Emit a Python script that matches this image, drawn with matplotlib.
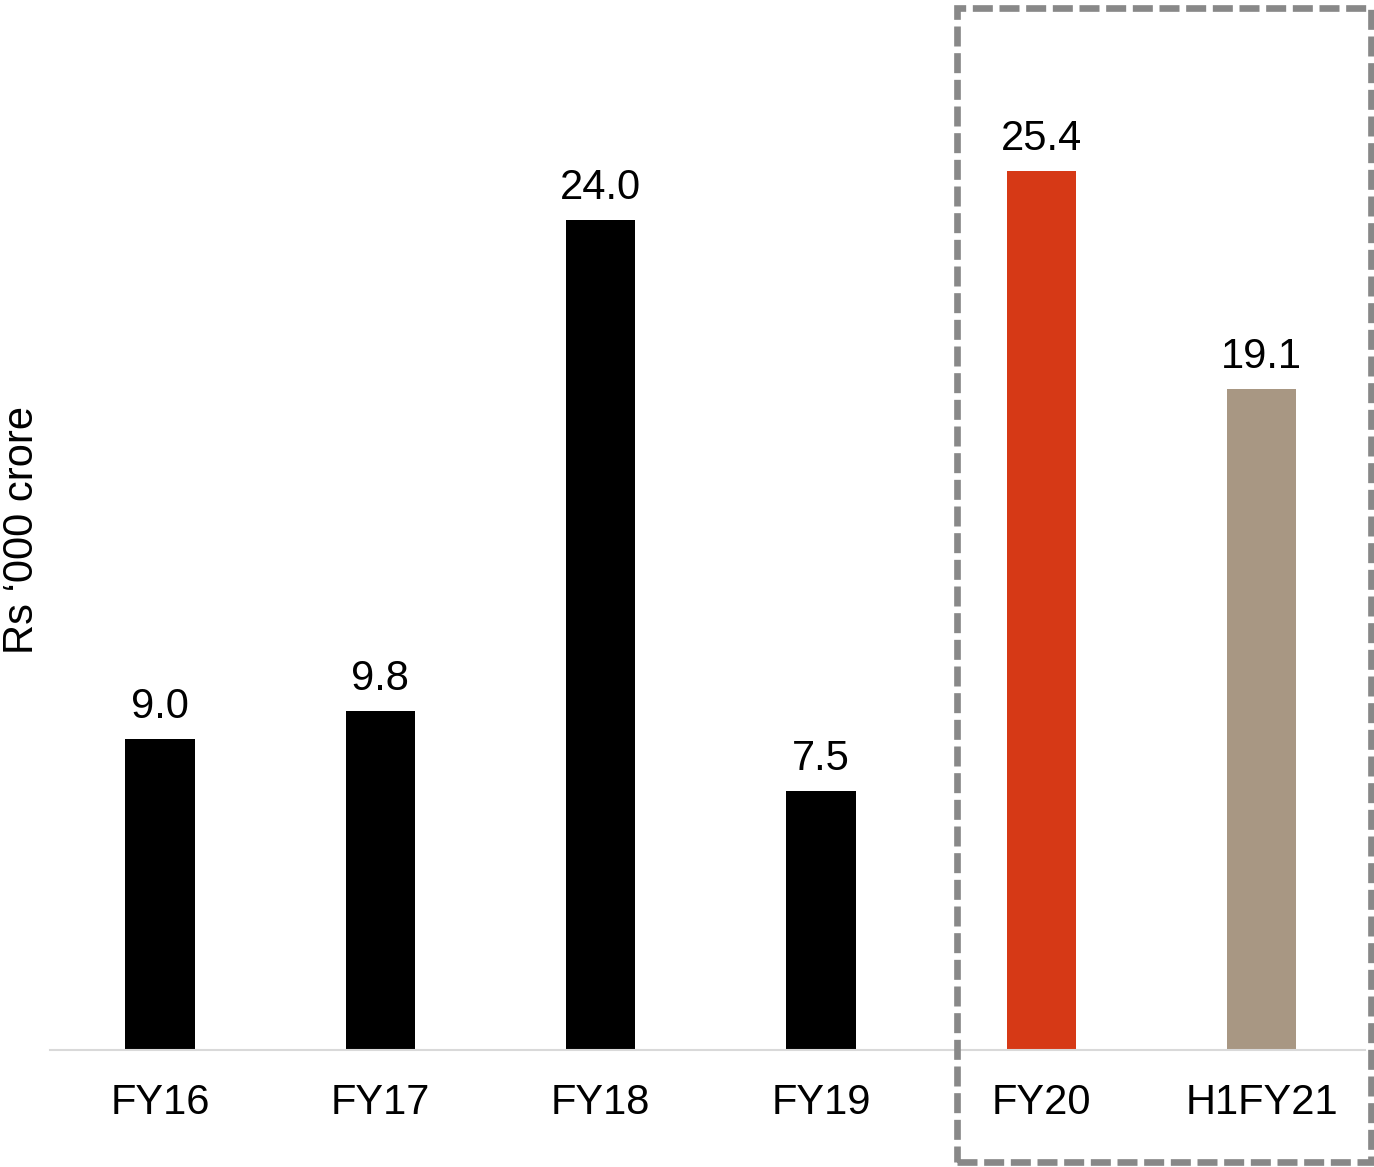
import matplotlib
matplotlib.use("Agg")
import matplotlib.pyplot as plt
from matplotlib.patches import Rectangle

categories = ["FY16", "FY17", "FY18", "FY19", "FY20", "H1FY21"]
values = [9.0, 9.8, 24.0, 7.5, 25.4, 19.1]
colors = ["#000000", "#000000", "#000000", "#000000", "#D63916", "#A89783"]
ylabel = "Rs \u2018000 crore"

plt.rcParams['font.family'] = ['Liberation Sans', 'DejaVu Sans']

W, H = 1374, 1167
fig = plt.figure(figsize=(W / 100, H / 100), dpi=100)
ax = fig.add_axes([50 / W, 1 - 1050 / H, (1365 - 50) / W, 1050 / H])

x = list(range(len(categories)))
ax.bar(x, values, width=0.315, color=colors)
ax.set_xlim(-0.5, 5.47)
ax.set_ylim(0, 1050 / 34.6)

for xi, v in zip(x, values):
    ax.annotate(f"{v:.1f}", (xi, v), xytext=(0, 15), textcoords="offset points",
                ha="center", va="baseline", fontsize=30)

ax.set_xticks(x)
ax.set_xticklabels(categories, fontsize=30)
ax.tick_params(axis="x", length=0, pad=24)
ax.set_yticks([])
for s in ["top", "right", "left"]:
    ax.spines[s].set_visible(False)
ax.spines["bottom"].set_color("#D9D9D9")
ax.spines["bottom"].set_linewidth(1.5)

fig.text(22 / W, 1 - 530 / H, ylabel, rotation=90, ha="center", va="center", fontsize=30)

box = Rectangle((957 / W, 1 - 1162 / H), (1371 - 957) / W, (1162 - 8) / H,
                transform=fig.transFigure, fill=False, edgecolor="#888888",
                linewidth=4.8, linestyle=(0, (3, 1)), clip_on=False)
fig.add_artist(box)

fig.savefig("out.png", dpi=100)
